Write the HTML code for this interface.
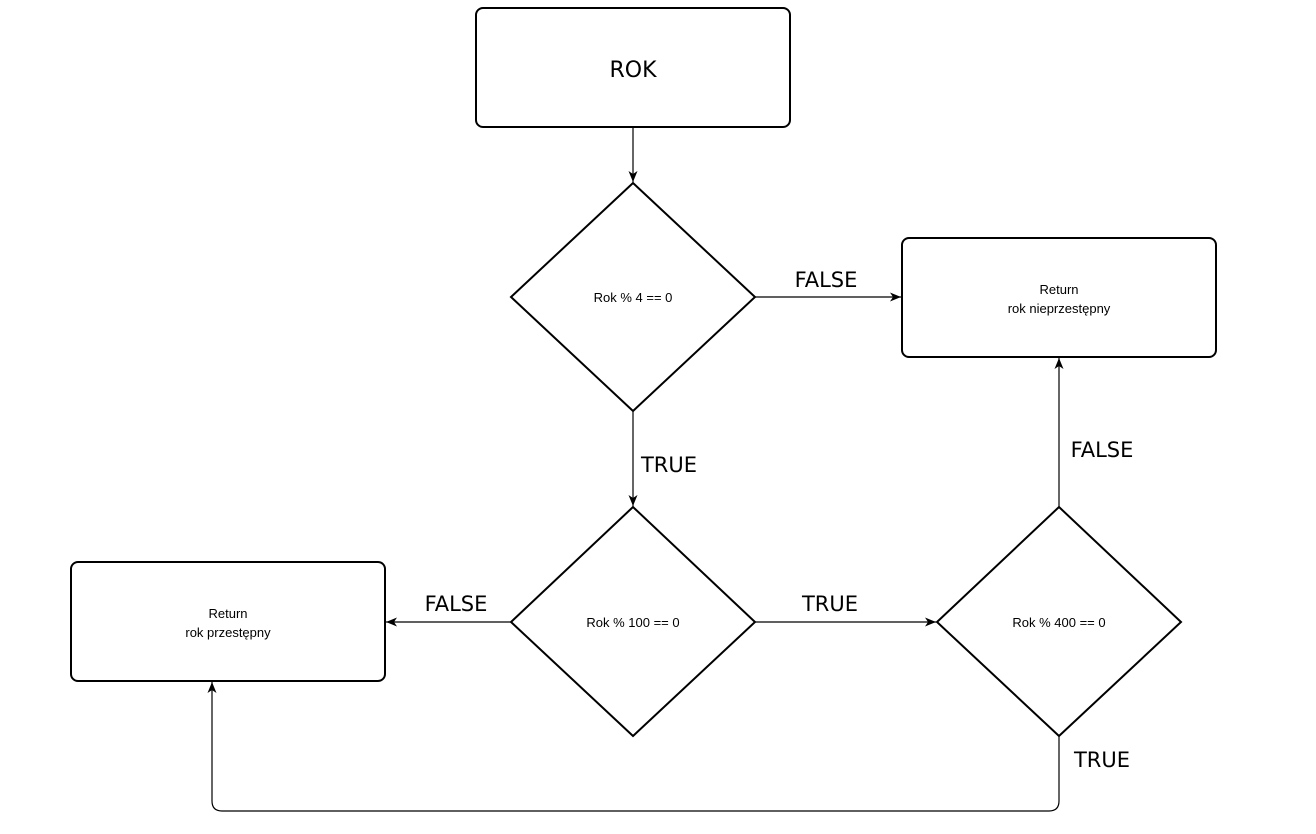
<!DOCTYPE html>
<html><head><meta charset="utf-8"><style>
html,body{margin:0;padding:0;background:#fff;}
svg{display:block;}
text{font-family:"DejaVu Sans","Liberation Sans",sans-serif;fill:#000;}
.s{font-size:13px;font-family:"Liberation Sans",sans-serif;}
.l{font-size:21px;}
</style></head><body>
<svg width="1316" height="834" viewBox="0 0 1316 834" xmlns="http://www.w3.org/2000/svg">
<defs><marker id="a" markerWidth="12" markerHeight="12" refX="11" refY="6" orient="auto" markerUnits="userSpaceOnUse"><path d="M0,1.5 L11,6 L0,10.5 L3,6 Z" fill="#000"/></marker></defs>
<g fill="#fff" stroke="#000" stroke-width="2">
<rect x="476" y="8" width="314" height="119" rx="7"/>
<rect x="902" y="238" width="314" height="119" rx="7"/>
<rect x="71" y="562" width="314" height="119" rx="7"/>
<polygon points="633,183 755,297 633,411 511,297"/>
<polygon points="633,507 755,622 633,736 511,622"/>
<polygon points="1059,507 1181,622 1059,736 937,622"/>
</g>
<g fill="none" stroke="#000" stroke-width="1.2" marker-end="url(#a)">
<line x1="633" y1="127" x2="633" y2="182"/>
<line x1="755" y1="297" x2="901" y2="297"/>
<line x1="633" y1="411" x2="633" y2="506"/>
<line x1="511" y1="622" x2="386" y2="622"/>
<line x1="755" y1="622" x2="936" y2="622"/>
<line x1="1059" y1="507" x2="1059" y2="358"/>
<path d="M1059,736 L1059,801 Q1059,811 1049,811 L222,811 Q212,811 212,801 L212,682"/>
</g>
<text x="633" y="77" font-size="22" text-anchor="middle">ROK</text>
<text class="s" x="633" y="302" text-anchor="middle">Rok % 4 == 0</text>
<text class="s" x="633" y="627" text-anchor="middle">Rok % 100 == 0</text>
<text class="s" x="1059" y="627" text-anchor="middle">Rok % 400 == 0</text>
<text class="s" x="1059" y="294" text-anchor="middle">Return</text>
<text class="s" x="1059" y="313" text-anchor="middle">rok nieprzestępny</text>
<text class="s" x="228" y="618" text-anchor="middle">Return</text>
<text class="s" x="228" y="637" text-anchor="middle">rok przestępny</text>
<text class="l" x="826" y="287" text-anchor="middle">FALSE</text>
<text class="l" x="669" y="472" text-anchor="middle">TRUE</text>
<text class="l" x="456" y="611" text-anchor="middle">FALSE</text>
<text class="l" x="830" y="611" text-anchor="middle">TRUE</text>
<text class="l" x="1102" y="457" text-anchor="middle">FALSE</text>
<text class="l" x="1102" y="767" text-anchor="middle">TRUE</text>
</svg>
</body></html>
